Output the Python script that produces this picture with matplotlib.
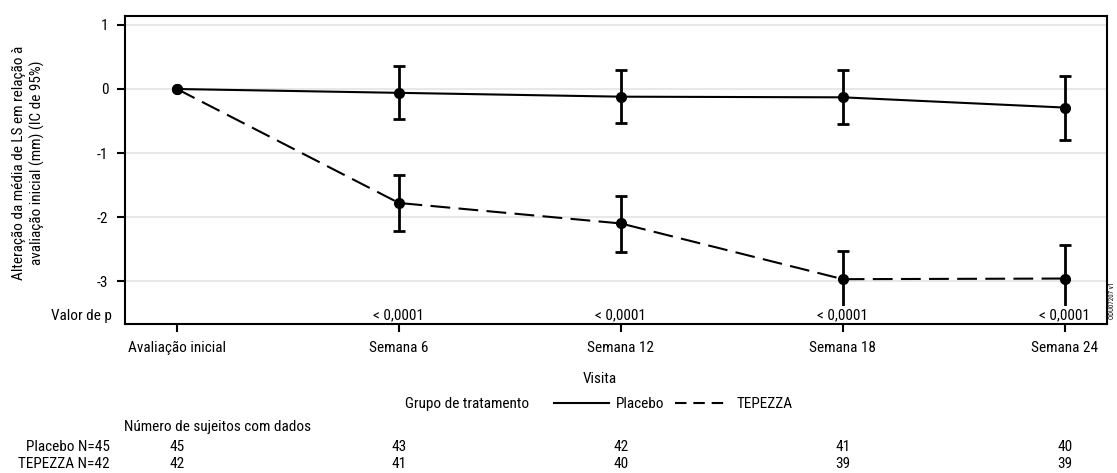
import matplotlib
matplotlib.use("Agg")
import matplotlib.pyplot as plt
import matplotlib.transforms as mtransforms
from matplotlib.lines import Line2D
import numpy as np

plt.rcParams['font.family'] = ['Roboto Condensed', 'DejaVu Sans']

visits = ["Avaliação inicial", "Semana 6", "Semana 12", "Semana 18", "Semana 24"]

# LS mean change from baseline and 95% CI
placebo_mean = [0.0, -0.06, -0.12, -0.13, -0.29]
placebo_lo = [0.0, -0.47, -0.53, -0.54, -0.79]
placebo_hi = [0.0, 0.36, 0.29, 0.29, 0.20]

tep_mean = [0.0, -1.78, -2.10, -2.97, -2.96]
tep_lo = [0.0, -2.22, -2.55, -3.41, -3.48]
tep_hi = [0.0, -1.35, -1.67, -2.53, -2.44]

p_values = ["", "< 0,0001", "< 0,0001", "< 0,0001", "< 0,0001"]

n_placebo = [45, 43, 42, 41, 40]
n_tep = [42, 41, 40, 39, 39]

W, H = 1117, 473
fig = plt.figure(figsize=(W / 100, H / 100), dpi=100)
ax = fig.add_axes([125 / W, 1 - 324 / H, 982 / W, 308 / H])

x = np.arange(len(visits))
fs = 11

for y in [1, 0, -1, -2, -3]:
    ax.axhline(y, color='#e8e8e8', lw=1.5, zorder=0)

def draw(mean, lo, hi, ls):
    mean = np.array(mean); lo = np.array(lo); hi = np.array(hi)
    line, = ax.plot(x, mean, color='black', lw=1.5, ls=ls, marker='o',
                    markersize=7, zorder=3)
    if ls == '--':
        line.set_dashes((9.5, 4))
    yerr = np.vstack([mean[1:] - lo[1:], hi[1:] - mean[1:]])
    ax.errorbar(x[1:], mean[1:], yerr=yerr, fmt='none', ecolor='black',
                elinewidth=2, capsize=4.5, capthick=2, zorder=2.2)

draw(placebo_mean, placebo_lo, placebo_hi, '-')
draw(tep_mean, tep_lo, tep_hi, '--')

ax.set_xlim(-0.234, 4.19)
ax.set_ylim(-3.67, 1.14)
ax.set_yticks([1, 0, -1, -2, -3])
ax.set_yticklabels(["1", "0", "-1", "-2", "-3"], fontsize=fs)
ax.set_xticks(x)
ax.set_xticklabels(visits, fontsize=fs)
ax.tick_params(length=6, width=1.5, pad=6)
for s in ax.spines.values():
    s.set_linewidth(1.5)

# p-values inside the plot
ptrans = mtransforms.blended_transform_factory(ax.transData, ax.transAxes)
for xi, p in zip(x, p_values):
    if p:
        ax.text(xi, 0.006, p, transform=ptrans, ha='center', va='bottom',
                fontsize=fs, zorder=2.4,
                bbox=dict(facecolor='white', edgecolor='none', pad=1.2))
fig.text(112 / W, 1 - 316 / H, "Valor de p", ha='right', va='center', fontsize=fs)

ax.set_ylabel("Alteração da média de LS em relação à\navaliação inicial (mm) (IC de 95%)",
              fontsize=fs, linespacing=1.3, ha='center', va='center')
ax.yaxis.set_label_coords((28 - 125) / 982, (324 - 163) / 308)
fig.text(600 / W, 1 - 379 / H, "Visita", ha='center', va='center', fontsize=fs)

# legend
fig.text(529 / W, 1 - 404 / H, "Grupo de tratamento", ha='right', va='center', fontsize=fs)
handles = [Line2D([], [], color='black', lw=1.5, ls='-'),
           Line2D([], [], color='black', lw=1.5, ls=(0, (5.5, 3.3)))]
fig.legend(handles, ["Placebo", "TEPEZZA"], loc='center left',
           bbox_to_anchor=(554 / W, 1 - 404 / H), ncol=2, frameon=False,
           fontsize=fs, handlelength=3.6, handletextpad=0.45, columnspacing=0.7,
           borderpad=0, borderaxespad=0)

# subject count table
fig.text(124 / W, 1 - 427 / H, "Número de sujeitos com dados", ha='left',
         va='center', fontsize=fs)
ntrans = mtransforms.blended_transform_factory(ax.transData, fig.transFigure)
fig.text(110 / W, 1 - 447 / H, "Placebo N=45", ha='right', va='center', fontsize=fs)
fig.text(110 / W, 1 - 464 / H, "TEPEZZA N=42", ha='right', va='center', fontsize=fs)
for xi, a, b in zip(x, n_placebo, n_tep):
    fig.text(xi, 1 - 447 / H, str(a), transform=ntrans, ha='center', va='center', fontsize=fs)
    fig.text(xi, 1 - 464 / H, str(b), transform=ntrans, ha='center', va='center', fontsize=fs)

fig.text(1113 / W, 1 - 300 / H, "ODU07207 v1", rotation=90, ha='center',
         va='center', fontsize=5)

fig.savefig("out.png", dpi=100)
